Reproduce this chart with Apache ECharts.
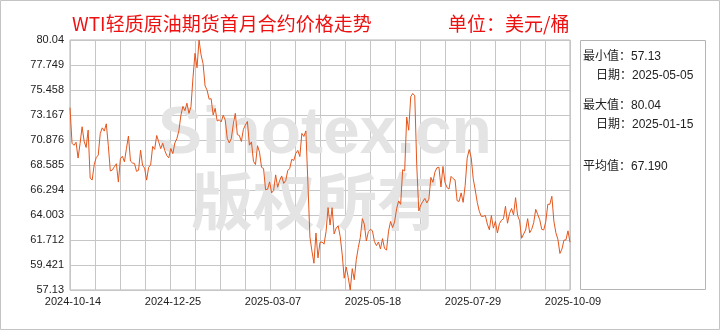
<!DOCTYPE html>
<html><head><meta charset="utf-8">
<script src="https://cdn.jsdelivr.net/npm/echarts@6/dist/echarts.min.js"></script>
<style>html,body{margin:0;padding:0;background:#fff}#c{width:720px;height:330px}</style>
</head><body><div id="c"></div>
<script>
// ---- data ----
const dates = [
'2024-10-14','2024-10-15','2024-10-16','2024-10-17','2024-10-18','2024-10-21','2024-10-22','2024-10-23','2024-10-24','2024-10-25','2024-10-28','2024-10-29','2024-10-30','2024-10-31',
'2024-11-01','2024-11-04','2024-11-05','2024-11-06','2024-11-07','2024-11-08','2024-11-11','2024-11-12','2024-11-13','2024-11-14','2024-11-15','2024-11-18','2024-11-19','2024-11-20','2024-11-21','2024-11-22','2024-11-25','2024-11-26','2024-11-27','2024-11-29',
'2024-12-02','2024-12-03','2024-12-04','2024-12-05','2024-12-06','2024-12-09','2024-12-10','2024-12-11','2024-12-12','2024-12-13','2024-12-16','2024-12-17','2024-12-18','2024-12-19','2024-12-20','2024-12-23','2024-12-24','2024-12-26','2024-12-27','2024-12-30','2024-12-31',
'2025-01-02','2025-01-03','2025-01-06','2025-01-07','2025-01-08','2025-01-09','2025-01-10','2025-01-13','2025-01-14','2025-01-15','2025-01-16','2025-01-17','2025-01-21','2025-01-22','2025-01-23','2025-01-24','2025-01-27','2025-01-28','2025-01-29','2025-01-30','2025-01-31',
'2025-02-03','2025-02-04','2025-02-05','2025-02-06','2025-02-07','2025-02-10','2025-02-11','2025-02-12','2025-02-13','2025-02-14','2025-02-18','2025-02-19','2025-02-20','2025-02-21','2025-02-24','2025-02-25','2025-02-26','2025-02-27','2025-02-28',
'2025-03-03','2025-03-04','2025-03-05','2025-03-06','2025-03-07','2025-03-10','2025-03-11','2025-03-12','2025-03-13','2025-03-14','2025-03-17','2025-03-18','2025-03-19','2025-03-20','2025-03-21','2025-03-24','2025-03-25','2025-03-26','2025-03-27','2025-03-28','2025-03-31',
'2025-04-01','2025-04-02','2025-04-03','2025-04-04','2025-04-07','2025-04-08','2025-04-09','2025-04-10','2025-04-11','2025-04-14','2025-04-15','2025-04-16','2025-04-17','2025-04-21','2025-04-22','2025-04-23','2025-04-24','2025-04-25','2025-04-28','2025-04-29','2025-04-30',
'2025-05-01','2025-05-02','2025-05-05','2025-05-06','2025-05-07','2025-05-08','2025-05-09','2025-05-12','2025-05-13','2025-05-14','2025-05-15','2025-05-16','2025-05-19','2025-05-20','2025-05-21','2025-05-22','2025-05-23','2025-05-27','2025-05-28','2025-05-29','2025-05-30',
'2025-06-02','2025-06-03','2025-06-04','2025-06-05','2025-06-06','2025-06-09','2025-06-10','2025-06-11','2025-06-12','2025-06-13','2025-06-16','2025-06-17','2025-06-18','2025-06-20','2025-06-23','2025-06-24','2025-06-25','2025-06-26','2025-06-27','2025-06-30',
'2025-07-01','2025-07-02','2025-07-03','2025-07-07','2025-07-08','2025-07-09','2025-07-10','2025-07-11','2025-07-14','2025-07-15','2025-07-16','2025-07-17','2025-07-18','2025-07-21','2025-07-22','2025-07-23','2025-07-24','2025-07-25','2025-07-28','2025-07-29','2025-07-30','2025-07-31',
'2025-08-01','2025-08-04','2025-08-05','2025-08-06','2025-08-07','2025-08-08','2025-08-11','2025-08-12','2025-08-13','2025-08-14','2025-08-15','2025-08-18','2025-08-19','2025-08-20','2025-08-21','2025-08-22','2025-08-25','2025-08-26','2025-08-27','2025-08-28','2025-08-29',
'2025-09-02','2025-09-03','2025-09-04','2025-09-05','2025-09-08','2025-09-09','2025-09-10','2025-09-11','2025-09-12','2025-09-15','2025-09-16','2025-09-17','2025-09-18','2025-09-19','2025-09-22','2025-09-23','2025-09-24','2025-09-25','2025-09-26','2025-09-29','2025-09-30',
'2025-10-01','2025-10-02','2025-10-03','2025-10-06','2025-10-07','2025-10-08','2025-10-09'
];
const prices = [
73.83,70.58,70.39,70.67,69.22,70.56,72.09,70.77,70.19,71.78,67.38,67.21,68.61,69.26,
69.49,71.47,71.99,71.69,72.36,70.38,68.04,68.12,68.43,68.70,67.02,69.16,69.39,68.87,70.10,71.24,68.94,68.77,68.72,68.00,
68.10,69.94,68.54,68.30,67.20,68.37,68.59,70.29,70.02,71.29,70.71,70.08,70.58,69.91,69.46,69.24,70.10,69.62,70.60,70.99,71.72,
73.13,73.96,73.56,74.25,73.32,73.92,76.57,78.82,77.50,80.04,78.68,77.88,75.83,75.44,74.62,74.66,73.17,73.77,72.62,72.73,72.53,
73.16,72.70,71.03,70.61,71.00,72.32,73.32,71.37,71.29,70.74,71.85,72.25,72.57,70.40,70.70,68.93,68.62,70.35,69.76,
68.37,68.26,66.31,66.36,67.04,66.03,66.25,67.68,66.55,67.18,67.58,66.90,67.16,68.07,68.28,69.11,69.00,69.65,69.92,69.36,71.48,
71.20,71.71,66.95,61.99,60.70,59.58,62.35,60.07,61.50,61.53,61.33,62.47,64.68,63.08,64.67,62.27,62.79,63.02,62.05,60.42,58.21,
59.24,58.29,57.13,59.09,58.07,59.91,61.02,61.95,63.67,63.15,61.62,62.49,62.69,62.56,61.57,61.20,61.53,60.89,61.84,60.94,60.79,
62.52,63.41,62.85,63.37,64.58,65.29,64.98,68.15,68.04,72.98,71.77,74.84,75.14,74.93,68.51,64.37,64.92,65.24,65.52,65.11,
65.45,67.45,67.00,67.93,68.33,68.38,66.57,68.45,66.98,66.52,66.38,67.54,67.34,67.20,65.31,65.25,66.03,65.16,66.71,69.21,70.00,69.26,
67.33,66.29,65.16,64.35,63.88,63.88,63.96,63.17,62.65,63.96,62.80,63.42,62.35,63.21,63.52,63.66,64.80,63.25,64.15,64.60,64.01,
65.59,63.97,63.48,61.87,62.26,62.63,63.67,62.37,62.69,63.30,64.52,64.05,63.57,62.68,62.64,63.41,64.99,64.98,65.72,63.45,62.37,
61.78,60.48,60.88,61.69,61.73,62.55,61.51
];
const yTickLabels = ['57.13','59.421','61.712','64.003','66.294','68.585','70.876','73.167','75.458','77.749','80.04'];
const xTickLabels = ['2024-10-14','2024-12-25','2025-03-07','2025-05-18','2025-07-29','2025-10-09'];
const yMin = 57.13, yMax = 80.04;
const titleText = 'WTI轻质原油期货首月合约价格走势';
const unitText = '单位：美元/桶';
const statLabels = ['最小值：57.13','日期：2025-05-05','最大值：80.04','日期：2025-01-15','平均值：67.190'];
const watermark = ['Sinotex.cn','版权所有'];

// ---- chart ----
const FONT = "'Liberation Sans','Noto Sans CJK SC',sans-serif";
const chart = echarts.init(document.getElementById('c'), null, {renderer:'canvas'});
const gridLine = {show:true, lineStyle:{color:'#c6c6c6', width:1}};
const statPos = [[583,57],[596,76],[583,106],[596,125],[583,167]];
const option = {
  animation:false,
  backgroundColor:'#fff',
  grid:{left:70, top:40, width:500, height:250, show:true, borderColor:'#b4b4b4', borderWidth:1},
  xAxis:[
    {type:'value', min:0, max:20, interval:1,
     axisLine:{show:false}, axisTick:{show:false}, splitLine:gridLine,
     axisLabel:{fontSize:11, color:'#222', fontFamily:FONT, margin:6, padding:[0,0,0,6],
       showMinLabel:true, showMaxLabel:true, hideOverlap:false,
       formatter:function(v){const k=Math.round(v); return k%4===0 ? xTickLabels[k/4] : '';}}},
    {type:'category', data:dates, boundaryGap:false, show:false}
  ],
  yAxis:[
    {type:'value', min:0, max:10, interval:1,
     axisLine:{show:false}, axisTick:{show:false}, splitLine:gridLine,
     axisLabel:{fontSize:11, color:'#222', fontFamily:FONT, margin:6, padding:[0,0,8,0],
       showMinLabel:true, showMaxLabel:true,
       formatter:function(v){return yTickLabels[Math.round(v)];}}},
    {type:'value', min:yMin, max:yMax, show:false, splitLine:{show:false}}
  ],
  series:[{type:'line', xAxisIndex:1, yAxisIndex:1, data:prices, symbol:'none', showSymbol:false,
    lineStyle:{color:'#e4561c', width:1}, z:5}],
  graphic:[
    {type:'rect', shape:{x:0.5,y:0.5,width:719,height:329}, style:{fill:'none', stroke:'#c4c4c4', lineWidth:1}, z:0},
    {type:'rect', shape:{x:580.5,y:40.5,width:125,height:249}, style:{fill:'none', stroke:'#b4b4b4', lineWidth:1}, z:0},
    {type:'text', x:72, y:24, style:{text:titleText, fill:'#ee1111', font:"19px 'Noto Sans CJK SC'", textAlign:'left', textVerticalAlign:'middle', verticalAlign:'middle'}},
    {type:'text', x:448, y:24, style:{text:unitText, fill:'#ee1111', font:"19px 'Noto Sans CJK SC'", textAlign:'left', textVerticalAlign:'middle', verticalAlign:'middle'}},
    {type:'text', x:158, y:135, z:1, style:{text:watermark[0], fill:'#e4e4e4', font:"bold 66px 'Liberation Sans'", textAlign:'left', textVerticalAlign:'middle', verticalAlign:'middle'}},
    {type:'text', x:191, y:201, z:1, style:{text:watermark[1], fill:'#e4e4e4', font:"bold 62px 'Noto Sans CJK SC'", textAlign:'left', textVerticalAlign:'middle', verticalAlign:'middle'}}
  ].concat(statLabels.map(function(t,i){
    return {type:'text', x:statPos[i][0], y:statPos[i][1], style:{text:t, fill:'#222', font:"12px "+FONT, textAlign:'left', textVerticalAlign:'middle', verticalAlign:'middle'}};
  }))
};
chart.setOption(option);
</script></body></html>
